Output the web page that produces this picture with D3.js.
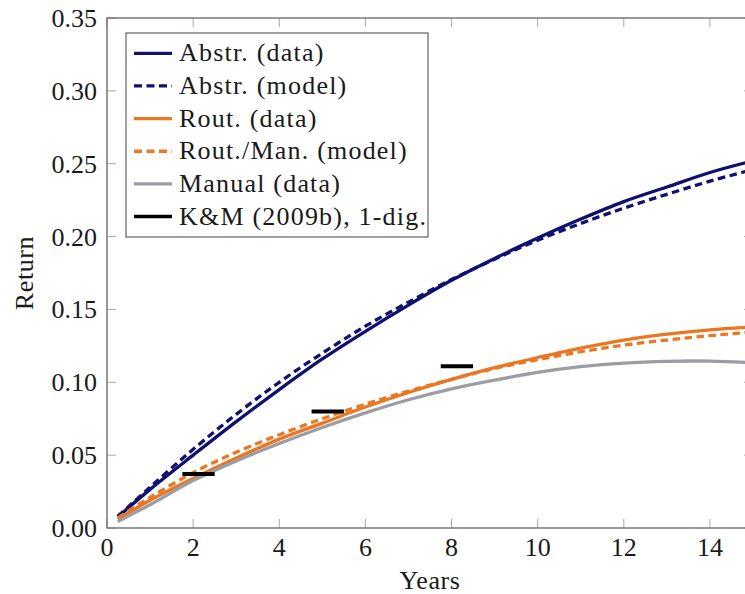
<!DOCTYPE html>
<html>
<head>
<meta charset="utf-8">
<script src="https://cdn.jsdelivr.net/npm/d3@7/dist/d3.min.js"></script>
<style>
  html, body { margin: 0; padding: 0; background: #fff; }
  svg { display: block; }
  text { font-family: "Liberation Serif", "DejaVu Serif", serif; fill: #1a1a1a; }
</style>
</head>
<body>
<svg id="chart" width="745" height="594"></svg>
<script>
// Years since entry
const years = [0.25, 1, 2, 3, 4, 5, 6, 7, 8, 9, 10, 11, 12, 13, 14, 15];

// Return by task group
const abstrData  = [0.0075, 0.0265, 0.050, 0.073, 0.095, 0.116, 0.135, 0.153, 0.170, 0.185, 0.199, 0.212, 0.224, 0.234, 0.244, 0.252];
const abstrModel = [0.008, 0.028, 0.054, 0.078, 0.100, 0.120, 0.1385, 0.155, 0.1705, 0.1845, 0.1975, 0.209, 0.2195, 0.229, 0.238, 0.246];
const routData   = [0.006, 0.019, 0.034, 0.048, 0.061, 0.072, 0.083, 0.093, 0.102, 0.110, 0.117, 0.1235, 0.129, 0.133, 0.136, 0.138];
const routModel  = [0.007, 0.021, 0.038, 0.052, 0.064, 0.075, 0.085, 0.094, 0.102, 0.1095, 0.1155, 0.121, 0.1255, 0.129, 0.132, 0.1345];
const manualData = [0.0045, 0.016, 0.0325, 0.046, 0.058, 0.069, 0.079, 0.088, 0.0955, 0.1015, 0.1068, 0.1107, 0.1132, 0.1144, 0.1145, 0.1135];

// K&M (2009b) one-digit estimates: [from year, to year, return]
const kmSegments = [
  [1.75, 2.5, 0.037],
  [4.75, 5.5, 0.080],
  [7.75, 8.5, 0.111]
];

const xTicks = [0, 2, 4, 6, 8, 10, 12, 14];
const yTicks = [0, 0.05, 0.10, 0.15, 0.20, 0.25, 0.30, 0.35];

const legendLabels = ["Abstr. (data)", "Abstr. (model)", "Rout. (data)", "Rout./Man. (model)", "Manual (data)", "K&M (2009b), 1-dig."];

const navy = "#10106f", orange = "#ea7722", gray = "#9c9ca4";

const series = [
  { values: abstrData,  color: navy,   dash: null },
  { values: abstrModel, color: navy,   dash: "7.5,4.5" },
  { values: routData,   color: orange, dash: null },
  { values: routModel,  color: orange, dash: "7.5,4.5" },
  { values: manualData, color: gray,   dash: null }
];

const svg = d3.select("#chart");
const plot = { left: 107, top: 18, right: 753, bottom: 528 };

const x = d3.scaleLinear().domain([0, 15]).range([plot.left, plot.right]);
const y = d3.scaleLinear().domain([0, 0.35]).range([plot.bottom, plot.top]);

svg.append("defs").append("clipPath").attr("id", "plotClip")
  .append("rect")
  .attr("x", plot.left).attr("y", plot.top)
  .attr("width", plot.right - plot.left).attr("height", plot.bottom - plot.top);

// inward tick marks on all four sides
const tickLen = 9;
const tickColor = "#a8a8a8";
const ticksG = svg.append("g");
xTicks.forEach(t => {
  ticksG.append("line").attr("x1", x(t)).attr("x2", x(t))
    .attr("y1", plot.bottom).attr("y2", plot.bottom - tickLen)
    .attr("stroke", tickColor).attr("stroke-width", 1);
  ticksG.append("line").attr("x1", x(t)).attr("x2", x(t))
    .attr("y1", plot.top).attr("y2", plot.top + tickLen)
    .attr("stroke", tickColor).attr("stroke-width", 1);
});
yTicks.forEach(t => {
  ticksG.append("line").attr("x1", plot.left).attr("x2", plot.left + tickLen)
    .attr("y1", y(t)).attr("y2", y(t))
    .attr("stroke", tickColor).attr("stroke-width", 1);
  ticksG.append("line").attr("x1", plot.right).attr("x2", plot.right - tickLen)
    .attr("y1", y(t)).attr("y2", y(t))
    .attr("stroke", tickColor).attr("stroke-width", 1);
});

// curves
const line = d3.line()
  .x((d, i) => x(years[i]))
  .y(d => y(d))
  .curve(d3.curveCatmullRom.alpha(0.5));

const curves = svg.append("g").attr("clip-path", "url(#plotClip)");
series.forEach(s => {
  curves.append("path")
    .attr("d", line(s.values))
    .attr("fill", "none")
    .attr("stroke", s.color)
    .attr("stroke-width", 3.3)
    .attr("stroke-dasharray", s.dash)
    .attr("stroke-linecap", "butt");
});

// K&M segments
curves.selectAll("line.km").data(kmSegments).join("line")
  .attr("class", "km")
  .attr("x1", d => x(d[0])).attr("x2", d => x(d[1]))
  .attr("y1", d => y(d[2])).attr("y2", d => y(d[2]))
  .attr("stroke", "#000").attr("stroke-width", 4);

// frame
svg.append("rect")
  .attr("x", plot.left).attr("y", plot.top)
  .attr("width", plot.right - plot.left).attr("height", plot.bottom - plot.top)
  .attr("fill", "none").attr("stroke", "#6e6e6e").attr("stroke-width", 1.4);

// tick labels
const fs = 26;
svg.append("g").selectAll("text").data(xTicks).join("text")
  .attr("x", d => x(d)).attr("y", 556)
  .attr("text-anchor", "middle").attr("font-size", fs)
  .text(d => d3.format("d")(d));

svg.append("g").selectAll("text").data(yTicks).join("text")
  .attr("x", 97).attr("y", d => y(d) + 9)
  .attr("text-anchor", "end").attr("font-size", fs)
  .text(d => d3.format(".2f")(d));

// axis titles
svg.append("text")
  .attr("x", (plot.left + plot.right) / 2).attr("y", 589)
  .attr("text-anchor", "middle").attr("font-size", fs)
  .attr("letter-spacing", 0.6)
  .text("Years");

svg.append("text")
  .attr("transform", `translate(33,${(plot.top + plot.bottom) / 2}) rotate(-90)`)
  .attr("text-anchor", "middle").attr("font-size", fs)
  .attr("letter-spacing", 0.6)
  .text("Return");

// legend
const legend = svg.append("g");
legend.append("rect")
  .attr("x", 126).attr("y", 33).attr("width", 302).attr("height", 204)
  .attr("fill", "#fff").attr("stroke", "#555").attr("stroke-width", 1.1);

const legendStyles = series.map(s => ({ color: s.color, dash: s.dash, w: 3.3 }))
  .concat([{ color: "#000", dash: null, w: 3.6 }]);

legendLabels.forEach((lab, i) => {
  const cy = 53.3 + i * 32.65;
  const st = legendStyles[i];
  legend.append("line")
    .attr("x1", 134).attr("x2", 172).attr("y1", cy).attr("y2", cy)
    .attr("stroke", st.color).attr("stroke-width", st.w)
    .attr("stroke-dasharray", st.dash ? "8,4.5" : null);
  legend.append("text")
    .attr("x", 179).attr("y", cy + 8)
    .attr("font-size", fs)
    .attr("letter-spacing", 1.2)
    .text(lab);
});
</script>
</body>
</html>
